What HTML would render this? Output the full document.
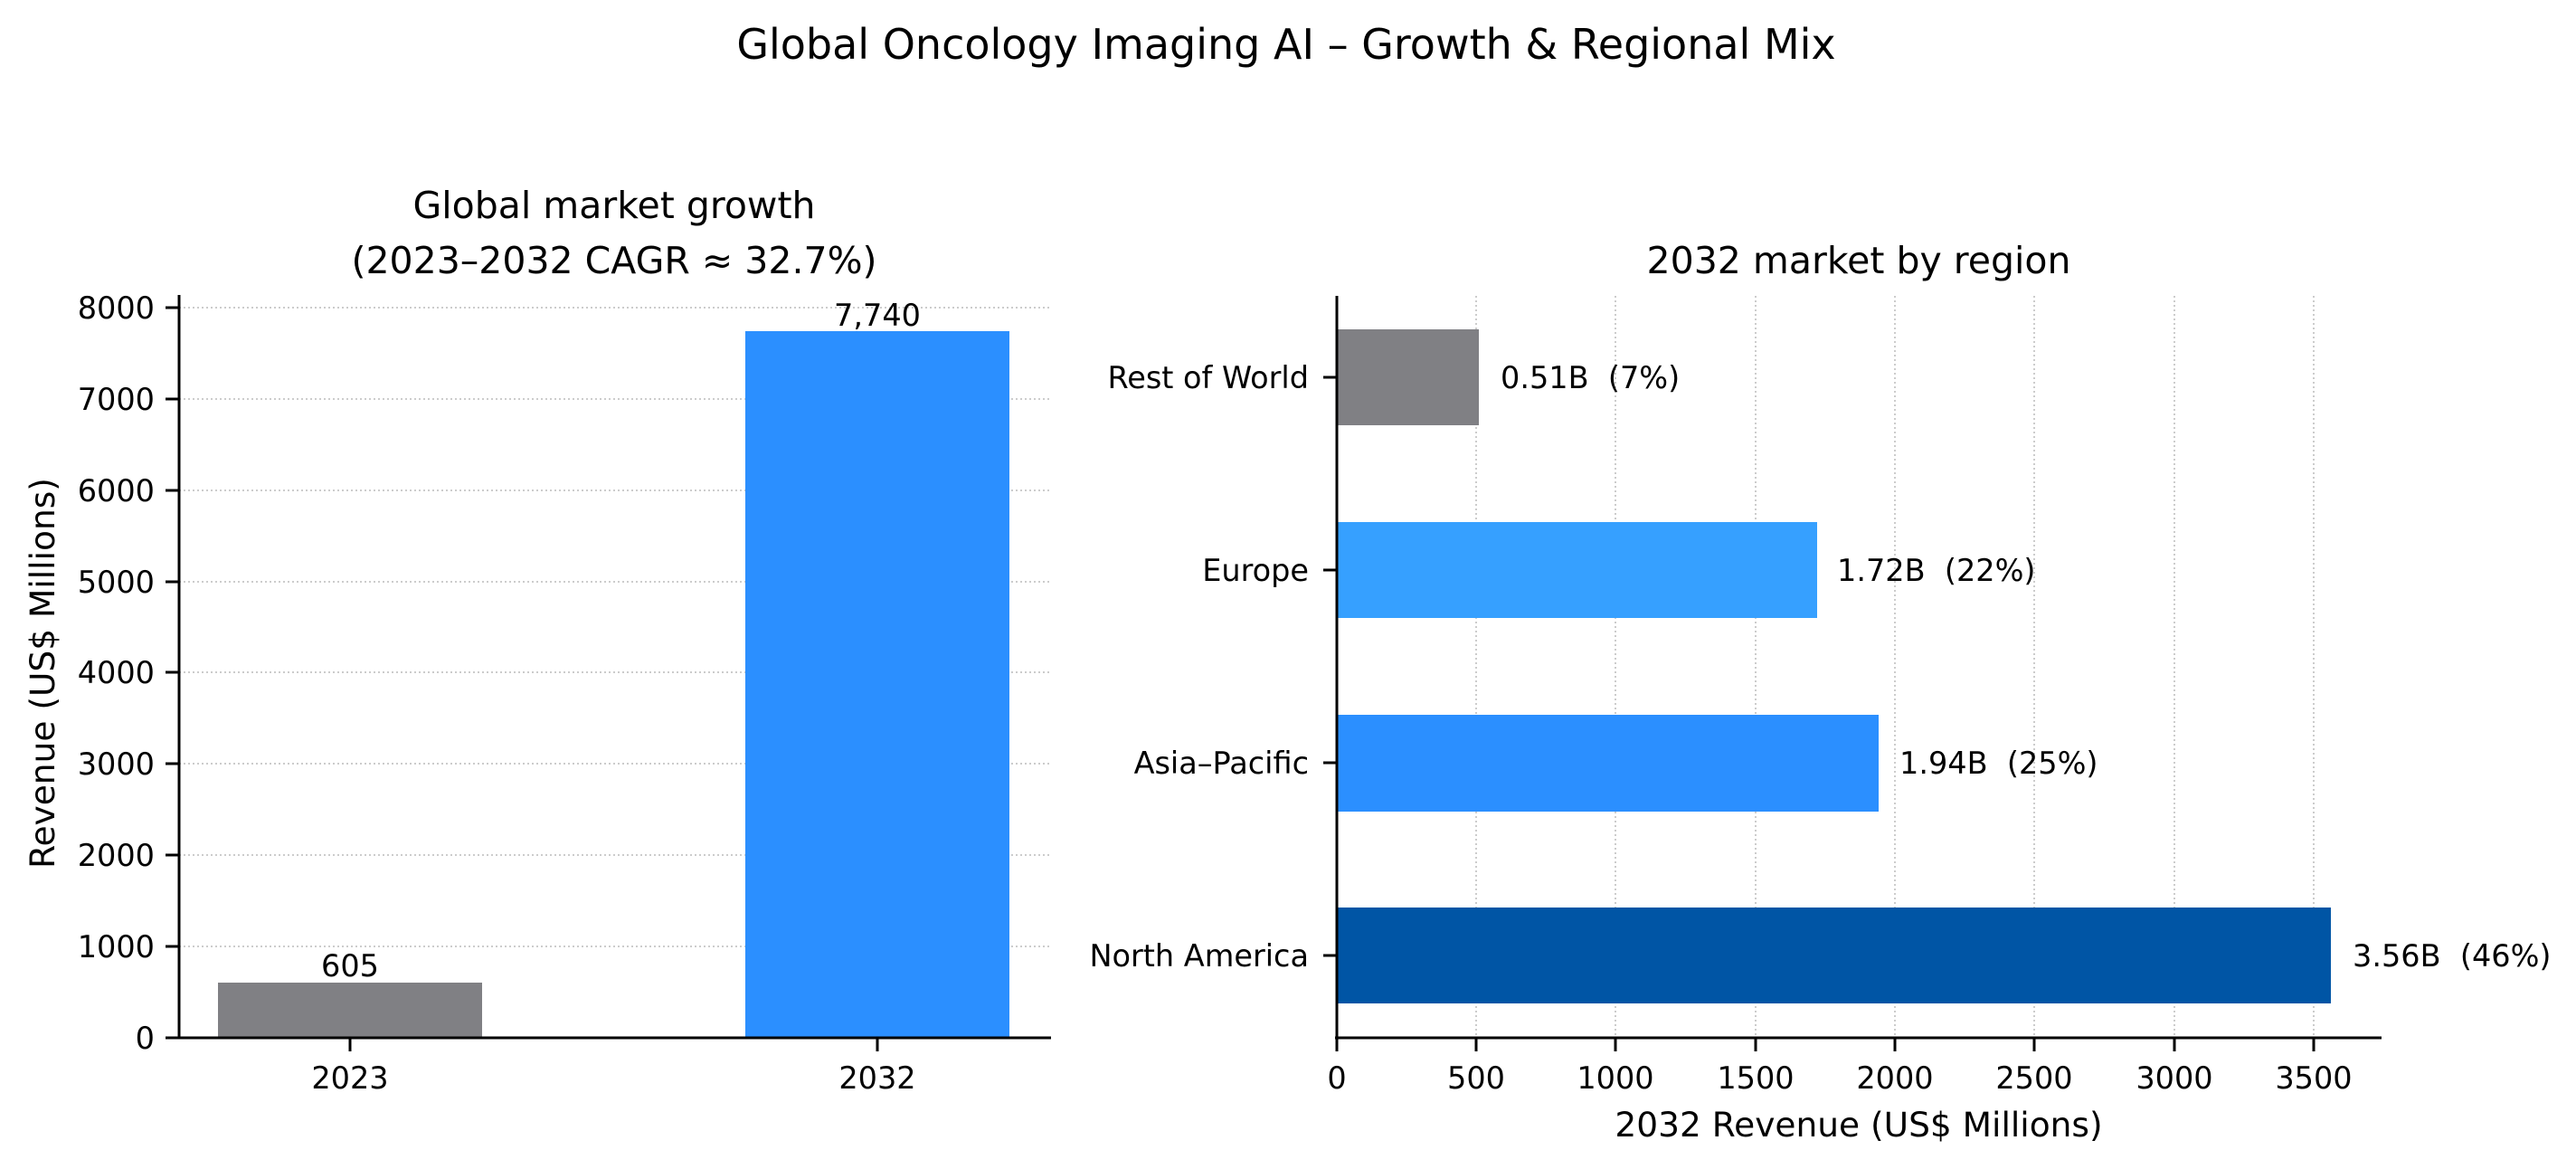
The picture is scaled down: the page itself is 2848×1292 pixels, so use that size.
<!DOCTYPE html>
<html><head><meta charset="utf-8"><style>
html,body{margin:0;padding:0;background:#fff;}
svg{display:block;font-family:"DejaVu Sans","Liberation Sans",sans-serif;}
.pre{white-space:pre;}
</style></head><body>
<svg width="2848" height="1292" viewBox="0 0 2848 1292" xmlns="http://www.w3.org/2000/svg">
<rect width="2848" height="1292" fill="#fff"/>
<text x="1422" y="65" font-size="46" text-anchor="middle">Global Oncology Imaging AI – Growth &amp; Regional Mix</text>

<!-- Left chart -->
<text x="679" y="241" font-size="41" text-anchor="middle">Global market growth</text>
<text x="679" y="302" font-size="41" text-anchor="middle">(2023–2032 CAGR ≈ 32.7%)</text>
<g stroke="#bbb" stroke-width="1.5" stroke-dasharray="2,3">
<line x1="198" x2="1161" y1="1046" y2="1046"/>
<line x1="198" x2="1161" y1="945" y2="945"/>
<line x1="198" x2="1161" y1="844" y2="844"/>
<line x1="198" x2="1161" y1="743" y2="743"/>
<line x1="198" x2="1161" y1="643" y2="643"/>
<line x1="198" x2="1161" y1="542" y2="542"/>
<line x1="198" x2="1161" y1="441" y2="441"/>
<line x1="198" x2="1161" y1="340" y2="340"/>
</g>
<rect x="241" y="1086" width="292" height="61" fill="#808084"/>
<rect x="824" y="366" width="292" height="781" fill="#2b8fff"/>
<g stroke="#000" stroke-width="3">
<line x1="198" y1="326" x2="198" y2="1148"/>
<line x1="196" y1="1147" x2="1162" y2="1147"/>
<line x1="387" y1="1147" x2="387" y2="1162"/>
<line x1="970" y1="1147" x2="970" y2="1162"/>
<line x1="183" x2="198" y1="1147" y2="1147"/>
<line x1="183" x2="198" y1="1046" y2="1046"/>
<line x1="183" x2="198" y1="945" y2="945"/>
<line x1="183" x2="198" y1="844" y2="844"/>
<line x1="183" x2="198" y1="743" y2="743"/>
<line x1="183" x2="198" y1="643" y2="643"/>
<line x1="183" x2="198" y1="542" y2="542"/>
<line x1="183" x2="198" y1="441" y2="441"/>
<line x1="183" x2="198" y1="340" y2="340"/>
</g>
<g font-size="33.5" text-anchor="end">
<text x="171" y="1159">0</text>
<text x="171" y="1058">1000</text>
<text x="171" y="957">2000</text>
<text x="171" y="856">3000</text>
<text x="171" y="755">4000</text>
<text x="171" y="655">5000</text>
<text x="171" y="554">6000</text>
<text x="171" y="453">7000</text>
<text x="171" y="352">8000</text>
</g>
<g font-size="33.5" text-anchor="middle">
<text x="387" y="1203">2023</text>
<text x="970" y="1203">2032</text>
<text x="387" y="1079">605</text>
<text x="970" y="360">7,740</text>
</g>
<text transform="translate(60,744) rotate(-90)" font-size="37.5" text-anchor="middle">Revenue (US$ Millions)</text>

<!-- Right chart -->
<text x="2055" y="302" font-size="41" text-anchor="middle">2032 market by region</text>
<g stroke="#bbb" stroke-width="1.5" stroke-dasharray="2,3">
<line x1="1632" x2="1632" y1="327" y2="1147"/>
<line x1="1786" x2="1786" y1="327" y2="1147"/>
<line x1="1941" x2="1941" y1="327" y2="1147"/>
<line x1="2095" x2="2095" y1="327" y2="1147"/>
<line x1="2249" x2="2249" y1="327" y2="1147"/>
<line x1="2404" x2="2404" y1="327" y2="1147"/>
<line x1="2558" x2="2558" y1="327" y2="1147"/>
</g>
<rect x="1478" y="364" width="157" height="106" fill="#808084"/>
<rect x="1478" y="577" width="531" height="106" fill="#36a0ff"/>
<rect x="1478" y="790" width="599" height="107" fill="#2b8fff"/>
<rect x="1478" y="1003" width="1099" height="106" fill="#0055a5"/>
<g stroke="#000" stroke-width="3">
<line x1="1478" y1="327" x2="1478" y2="1148"/>
<line x1="1476" y1="1147" x2="2633" y2="1147"/>
<line x1="1463" x2="1478" y1="417" y2="417"/>
<line x1="1463" x2="1478" y1="630" y2="630"/>
<line x1="1463" x2="1478" y1="843" y2="843"/>
<line x1="1463" x2="1478" y1="1056" y2="1056"/>
<line x1="1478" x2="1478" y1="1147" y2="1162"/>
<line x1="1632" x2="1632" y1="1147" y2="1162"/>
<line x1="1786" x2="1786" y1="1147" y2="1162"/>
<line x1="1941" x2="1941" y1="1147" y2="1162"/>
<line x1="2095" x2="2095" y1="1147" y2="1162"/>
<line x1="2249" x2="2249" y1="1147" y2="1162"/>
<line x1="2404" x2="2404" y1="1147" y2="1162"/>
<line x1="2558" x2="2558" y1="1147" y2="1162"/>
</g>
<g font-size="33.5" text-anchor="end">
<text x="1447" y="429">Rest of World</text>
<text x="1447" y="642">Europe</text>
<text x="1447" y="855">Asia–Pacific</text>
<text x="1447" y="1068">North America</text>
</g>
<g font-size="33.5" text-anchor="middle">
<text x="1478" y="1203">0</text>
<text x="1632" y="1203">500</text>
<text x="1786" y="1203">1000</text>
<text x="1941" y="1203">1500</text>
<text x="2095" y="1203">2000</text>
<text x="2249" y="1203">2500</text>
<text x="2404" y="1203">3000</text>
<text x="2558" y="1203">3500</text>
</g>
<text x="2055" y="1256" font-size="37.5" text-anchor="middle">2032 Revenue (US$ Millions)</text>
<g font-size="33.5">
<text class="pre" x="1659" y="429">0.51B  (7%)</text>
<text class="pre" x="2031" y="642">1.72B  (22%)</text>
<text class="pre" x="2100" y="855">1.94B  (25%)</text>
<text class="pre" x="2601" y="1068">3.56B  (46%)</text>
</g>
</svg>
</body></html>
